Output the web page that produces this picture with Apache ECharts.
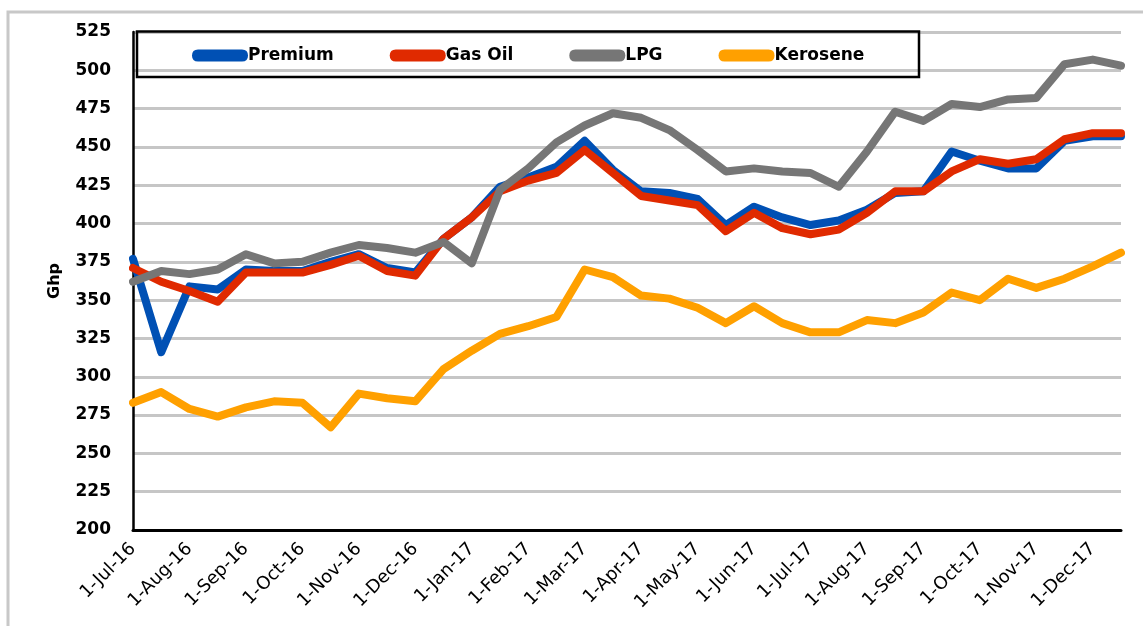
<!DOCTYPE html>
<html>
<head>
<meta charset="utf-8">
<title>Ghp prices</title>
<script src="https://cdn.jsdelivr.net/npm/echarts@6/dist/echarts.min.js"></script>
<style>
  html, body { margin: 0; padding: 0; background: #fff; }
  #main { width: 1143px; height: 626px; }
</style>
</head>
<body>
<div id="main"></div>
<script>
// pricing windows, 1st and 16th of each month
const dates = [
  '1-Jul-16', '16-Jul-16', '1-Aug-16', '16-Aug-16', '1-Sep-16', '16-Sep-16',
  '1-Oct-16', '16-Oct-16', '1-Nov-16', '16-Nov-16', '1-Dec-16', '16-Dec-16',
  '1-Jan-17', '16-Jan-17', '1-Feb-17', '16-Feb-17', '1-Mar-17', '16-Mar-17',
  '1-Apr-17', '16-Apr-17', '1-May-17', '16-May-17', '1-Jun-17', '16-Jun-17',
  '1-Jul-17', '16-Jul-17', '1-Aug-17', '16-Aug-17', '1-Sep-17', '16-Sep-17',
  '1-Oct-17', '16-Oct-17', '1-Nov-17', '16-Nov-17', '1-Dec-17', '16-Dec-17'
];

const premium = [377, 316, 359, 357, 370, 369, 369, 375, 380, 371, 368, 390,
  404, 424, 430, 437, 454, 435, 421, 420, 416, 399, 411, 404,
  399, 402, 409, 420, 421, 447, 441, 436, 436, 454, 457, 457];

const gasOil = [371, 362, 356, 349, 368, 368, 368, 373, 379, 369, 366, 390,
  404, 421, 428, 433, 448, 433, 418, 415, 412, 395, 407, 397,
  393, 396, 407, 421, 421, 434, 442, 439, 442, 455, 459, 459];

const lpg = [362, 369, 367, 370, 380, 374, 375, 381, 386, 384, 381, 388,
  374, 422, 436, 453, 464, 472, 469, 461, 448, 434, 436, 434,
  433, 424, 447, 473, 467, 478, 476, 481, 482, 504, 507, 503];

const kerosene = [283, 290, 279, 274, 280, 284, 283, 267, 289, 286, 284, 305,
  317, 328, 333, 339, 370, 365, 353, 351, 345, 335, 346, 335,
  329, 329, 337, 335, 342, 355, 350, 364, 358, 364, 372, 381];

const names = ['Premium', 'Gas Oil', 'LPG', 'Kerosene'];
const colors = ['#0050b4', '#e02a00', '#767676', '#ffa000'];
const values = [premium, gasOil, lpg, kerosene];

const font = 'DejaVu Sans';
const pill = 'path://M6,0 L50,0 Q56,0 56,6 Q56,12 50,12 L6,12 Q0,12 0,6 Q0,0 6,0 Z';

const chart = echarts.init(document.getElementById('main'));

chart.setOption({
  backgroundColor: '#ffffff',
  animation: false,
  grid: { left: 133, right: 22, top: 32, bottom: 96 },
  legend: {
    left: 192,
    top: 47,
    padding: 0,
    itemGap: 56,
    itemWidth: 56,
    itemHeight: 12,
    icon: pill,
    data: names,
    textStyle: { fontFamily: font, fontWeight: 'bold', fontSize: 17, color: '#000', padding: [0, 0, 0, -5] }
  },
  xAxis: {
    type: 'category',
    data: dates,
    boundaryGap: false,
    axisLine: { show: true, lineStyle: { color: '#000', width: 3 } },
    axisTick: { show: false },
    splitLine: { show: false },
    axisLabel: {
      interval: 1,
      rotate: 45,
      margin: 16,
      fontFamily: font,
      fontSize: 18,
      color: '#000'
    }
  },
  yAxis: {
    type: 'value',
    min: 200,
    max: 525,
    interval: 25,
    name: 'Ghp',
    nameLocation: 'middle',
    nameGap: 70,
    nameTextStyle: { fontFamily: font, fontWeight: 'bold', fontSize: 16, color: '#000' },
    axisLine: { show: true, lineStyle: { color: '#000', width: 2.5 } },
    axisTick: { show: false },
    axisLabel: { margin: 22, fontFamily: font, fontWeight: 'bold', fontSize: 17, color: '#000' },
    splitLine: { show: true, lineStyle: { color: '#c6c6c6', width: 3 } }
  },
  graphic: [
    {
      type: 'rect',
      z: 100,
      shape: { x: 8, y: 12, width: 1200, height: 700 },
      style: { fill: 'none', stroke: '#c8c8c8', lineWidth: 3 }
    },
    {
      type: 'rect',
      z: 100,
      shape: { x: 137, y: 31.5, width: 782, height: 45.5 },
      style: { fill: 'none', stroke: '#000', lineWidth: 2.5 }
    }
  ],
  series: names.map((name, k) => ({
    name: name,
    type: 'line',
    data: values[k],
    showSymbol: false,
    symbol: 'none',
    color: colors[k],
    lineStyle: { width: 8, color: colors[k], cap: 'round', join: 'round' }
  }))
});
</script>
</body>
</html>
